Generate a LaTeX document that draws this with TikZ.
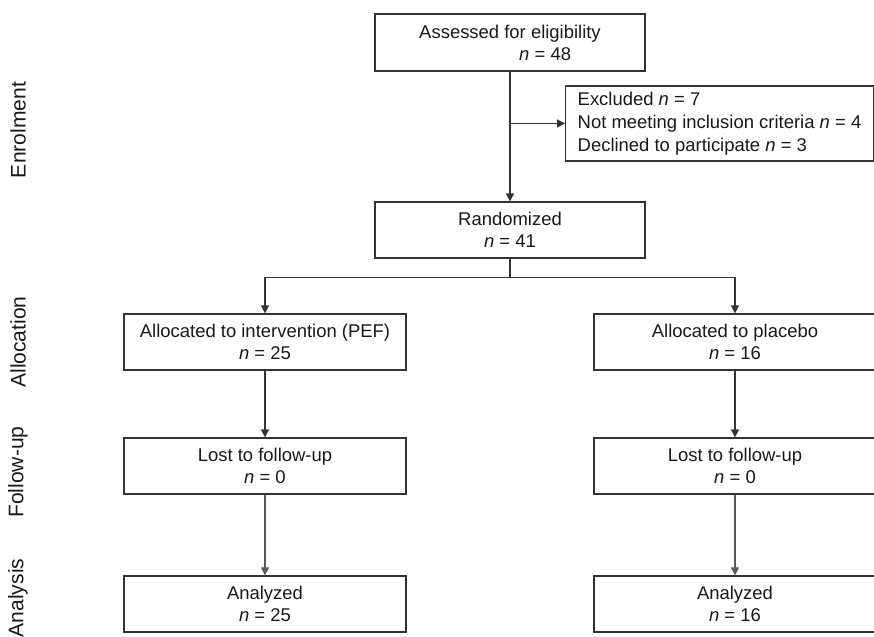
\documentclass[tikz,border=0pt]{standalone}
\usepackage{fontspec}
\setmainfont{Liberation Sans}
\usetikzlibrary{arrows.meta,positioning}
\tikzset{
	>={Triangle[length=4.5pt,width=4.5pt]},
}

\begin{document}
\begin{tikzpicture}[
box/.style = {rectangle, draw=black!80, line width=0.7pt, align=center, minimum width=5.64cm, minimum height=1.12cm, inner sep=0, font=\fontsize{10.5}{12.6}\selectfont, text=black!90},
stage/.style = {rotate=90, font=\fontsize{12}{14}\selectfont, text=black!90},
link/.style = {->, draw=black!80, line width=0.8pt}]
\useasboundingbox (0,0) rectangle (17.48,-12.74);
\node[box,minimum width=5.4cm,minimum height=1.14cm,align=left] (assessed) at (10.2,-0.85) {Assessed for eligibility\\\hspace*{2cm}\textit{n} = 48};
\node[box,minimum width=6.14cm,minimum height=1.5cm,inner xsep=0.24cm,align=left,font=\fontsize{10.5}{13.2}\selectfont] (excluded) at (14.39,-2.47) {Excluded \textit{n} = 7\\Not meeting inclusion criteria \textit{n} = 4\\Declined to participate \textit{n} = 3};
\node[box,minimum width=5.4cm] (randomized) at (10.2,-4.6) {Randomized\\\textit{n} = 41};
\node[box] (pefalloc) at (5.3,-6.84) {Allocated to intervention (PEF)\\\textit{n} = 25};
\node[box] (placalloc) at (14.7,-6.84) {Allocated to placebo\\\textit{n} = 16};
\node[box] (peflost) at (5.3,-9.32) {Lost to follow-up\\\textit{n} = 0};
\node[box] (placlost) at (14.7,-9.32) {Lost to follow-up\\\textit{n} = 0};
\node[box] (pefanalyzed) at (5.3,-12.08) {Analyzed\\\textit{n} = 25};
\node[box] (placanalyzed) at (14.7,-12.08) {Analyzed\\\textit{n} = 16};
% stage labels
\node[stage] (enrolment) at (0.36,-2.6) {Enrolment};
\node[stage] (allocation) at (0.36,-6.84) {Allocation};
\node[stage] (followup) at (0.36,-9.44) {Follow-up};
\node[stage] (analysis) at (0.36,-11.96) {Analysis};
% connectors
\coordinate (exclsplit) at (assessed.south |- excluded.west);
\coordinate (fork) at ([yshift=-0.38cm]randomized.south);
\draw[link] (assessed.south) -- (randomized.north);
\draw[link,line width=0.6pt] (exclsplit) -- (excluded.west);
\draw[link,-] (randomized.south) -- (fork);
\draw[link] (fork) -| (pefalloc.north);
\draw[link] (fork) -| (placalloc.north);
\draw[link] (pefalloc.south) -- (peflost.north);
\draw[link] (placalloc.south) -- (placlost.north);
\draw[link,line width=0.6pt,draw=black!65] (peflost.south) -- (pefanalyzed.north);
\draw[link,line width=0.6pt,draw=black!65] (placlost.south) -- (placanalyzed.north);
\end{tikzpicture}
\end{document}
